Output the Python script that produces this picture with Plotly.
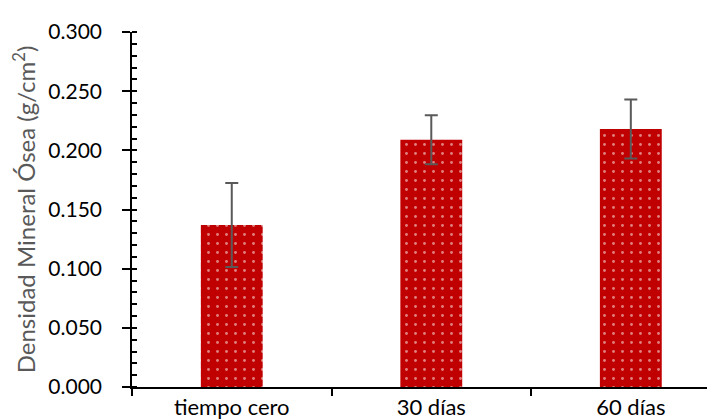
import plotly.graph_objects as go

categories = ["tiempo cero", "30 días", "60 días"]
values = [0.137, 0.209, 0.218]
errors = [0.0355, 0.0207, 0.025]
y_ticks = [0.0, 0.05, 0.10, 0.15, 0.20, 0.25, 0.30]

FONT = "Lato"
x_range = [-0.5, 2.462]

fig = go.Figure()
fig.add_trace(go.Bar(
    x=categories, y=values, width=0.31,
    marker=dict(color="#C00000", line=dict(width=0),
                pattern=dict(shape=".", fgcolor="white", bgcolor="#C00000",
                             size=9, solidity=0.08, fillmode="overlay")),
    error_y=dict(type="data", array=errors, visible=True, color="#595959",
                 thickness=2, width=6.5),
    showlegend=False,
))

fig.update_layout(
    width=715, height=419,
    margin=dict(l=124, r=0, t=24, b=40),
    paper_bgcolor="white", plot_bgcolor="white",
    font=dict(family=FONT, size=22, color="black"),
    xaxis=dict(type="category", range=x_range, tickson="boundaries",
               ticks="outside", ticklen=7, tickwidth=1.5, tickcolor="black",
               showline=True, linecolor="black", linewidth=1.5,
               showgrid=False, zeroline=False,
               tickfont=dict(family=FONT, size=22, color="black")),
    xaxis2=dict(overlaying="x", anchor="y", type="linear", range=x_range,
                tickvals=[0, 1, 2], ticks="inside", ticklen=5, tickwidth=1.5,
                tickcolor="black", showticklabels=False, showline=False,
                showgrid=False, zeroline=False, side="bottom"),
    yaxis=dict(range=[0, 0.3], tickvals=y_ticks, tickformat=".3f",
               ticks="outside", ticklen=8, tickwidth=1.5, tickcolor="black",
               ticklabelstandoff=16,
               showline=True, linecolor="black", linewidth=1.5,
               showgrid=False, zeroline=False,
               tickfont=dict(family=FONT, size=21, color="black"),
               minor=dict(dtick=0.01, ticks="inside", ticklen=5, tickwidth=1.5,
                          tickcolor="black", showgrid=False),
               title=dict(text="Densidad Mineral Ósea (g/cm<sup>2</sup>)",
                          font=dict(family=FONT, size=24, color="#595959"),
                          standoff=6)),
    yaxis2=dict(overlaying="y", anchor="x", range=[0, 0.3], tickvals=y_ticks,
                ticks="inside", ticklen=7, tickwidth=1.5, tickcolor="black",
                showticklabels=False, showline=False, showgrid=False,
                zeroline=False, side="left"),
)

fig.write_html("out.html")
